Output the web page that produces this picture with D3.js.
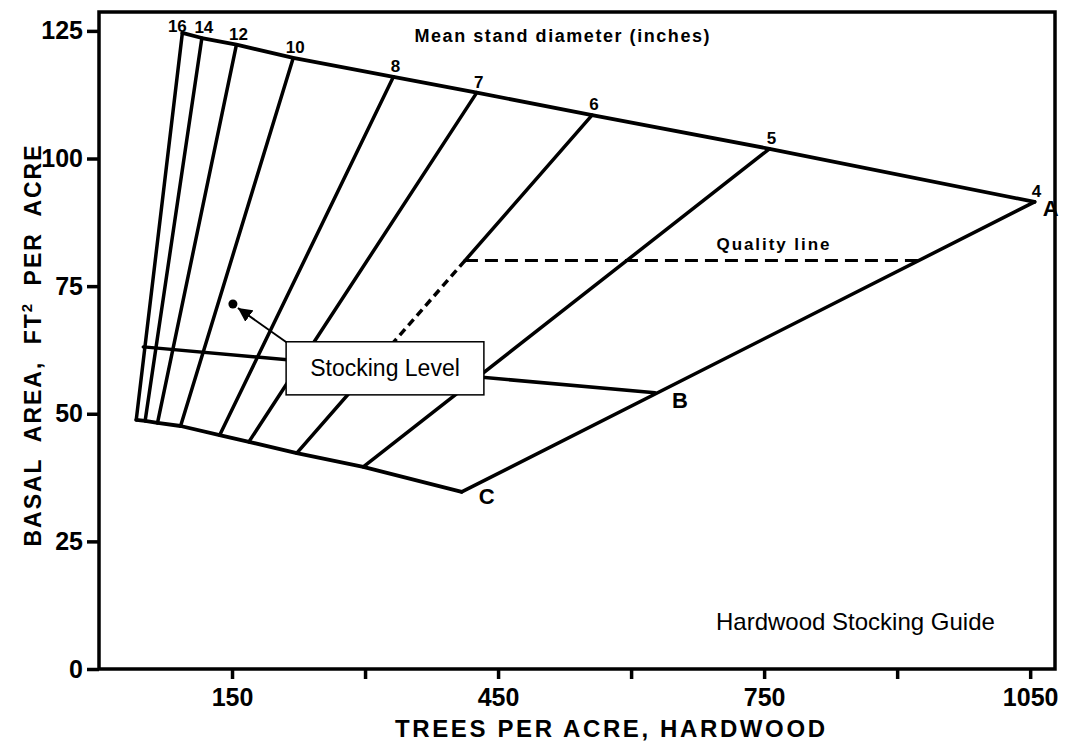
<!DOCTYPE html>
<html>
<head>
<meta charset="utf-8">
<script src="https://cdn.jsdelivr.net/npm/d3@7"></script>
<style>
  body { margin: 0; background: #fff; }
  text { font-family: "Liberation Sans", Arial, sans-serif; fill: #000; }
</style>
</head>
<body>
<div id="plot"></div>
<script>
// mean stand diameter lines (top = A-line, bottom = C-line)
const diameters = [16, 14, 12, 10, 8, 7, 6, 5, 4];
const topTrees = [94, 116, 155, 219, 332, 426, 556, 756, 1055];
const topBasal = [124.6, 123.6, 122.3, 119.7, 116.0, 112.9, 108.5, 101.9, 91.5];
const bottomTrees = [42, 52, 66, 92, 136, 169, 223, 298, 409];
const bottomBasal = [48.8, 48.6, 48.2, 47.6, 45.8, 44.5, 42.3, 39.6, 34.7];

// B-line (minimum stocking)
const bLineTrees = [50, 627];
const bLineBasal = [63.1, 54.1];

// quality line starts on the 6 inch line
const qualityBasal = 80;
const qualityDiameter = 6;
const dashedBasal = [80, 62];

const stockingDot = [151, 71.5];

const xTicks = [150, 300, 450, 600, 750, 900, 1050];
const xLabels = [150, 450, 750, 1050];
const yTicks = [0, 25, 50, 75, 100, 125];

const width = 1083, height = 742;

const svg = d3.select("#plot")
  .append("svg")
    .attr("width", width)
    .attr("height", height);

const x = d3.scaleLinear().domain([0, 1078]).range([99, 1055]);
const y = d3.scaleLinear().domain([0, 128.7]).range([669, 12]);

svg.append("defs").append("marker")
    .attr("id", "arrow")
    .attr("viewBox", "0 0 10 10")
    .attr("refX", 10).attr("refY", 5)
    .attr("markerWidth", 7).attr("markerHeight", 7)
    .attr("markerUnits", "strokeWidth")
    .attr("orient", "auto")
  .append("path")
    .attr("d", "M0,0 L10,5 L0,10 Z")
    .attr("fill", "#000");

// axes
const xAxis = svg.append("g")
  .attr("transform", `translate(0, ${y(0)})`)
  .call(d3.axisBottom(x).tickValues(xTicks).tickSize(10).tickSizeOuter(0).tickPadding(9)
    .tickFormat(d => xLabels.includes(d) ? d : ""));
xAxis.select(".domain").remove();
xAxis.selectAll("line").attr("stroke-width", 3.5);
xAxis.selectAll("text")
  .style("font-size", "25px").style("font-weight", "bold");

const yAxis = svg.append("g")
  .attr("transform", `translate(${x(0)}, 0)`)
  .call(d3.axisLeft(y).tickValues(yTicks).tickSize(12).tickSizeOuter(0).tickPadding(4));
yAxis.select(".domain").remove();
yAxis.selectAll("line").attr("stroke-width", 3.5);
yAxis.selectAll("text")
  .style("font-size", "25px").style("font-weight", "bold");

// frame
svg.append("rect")
  .attr("x", x(0))
  .attr("y", y(128.7))
  .attr("width", x(1078) - x(0))
  .attr("height", y(0) - y(128.7))
  .attr("fill", "none")
  .attr("stroke", "#000")
  .attr("stroke-width", 3.5);

svg.append("text")
  .attr("text-anchor", "middle")
  .attr("x", 610)
  .attr("y", 737)
  .style("font-size", "24px").style("font-weight", "bold")
  .attr("textLength", 430)
  .text("TREES PER ACRE, HARDWOOD");

const yLabel = svg.append("text")
  .attr("text-anchor", "middle")
  .attr("transform", "translate(41, 345) rotate(-90)")
  .style("font-size", "23px").style("font-weight", "bold")
  .style("letter-spacing", "2px").style("word-spacing", "8px");
yLabel.append("tspan").text("BASAL AREA, FT");
yLabel.append("tspan").attr("dy", -9).style("font-size", "15px").text("2");
yLabel.append("tspan").attr("dy", 9).text(" PER ACRE");

function atBasal(i, b) {
  const t = (topBasal[i] - b) / (topBasal[i] - bottomBasal[i]);
  return topTrees[i] + t * (bottomTrees[i] - topTrees[i]);
}

const line = d3.line().x(d => x(d[0])).y(d => y(d[1]));
const chart = svg.append("g")
  .attr("fill", "none")
  .attr("stroke", "#000")
  .attr("stroke-linecap", "round")
  .attr("stroke-linejoin", "round");

// top and bottom boundaries
chart.append("path")
  .attr("d", line(diameters.map((d, i) => [topTrees[i], topBasal[i]])))
  .attr("stroke-width", 3.8);
chart.append("path")
  .attr("d", line(diameters.map((d, i) => [bottomTrees[i], bottomBasal[i]])))
  .attr("stroke-width", 3.8);

// diameter lines
const qi = diameters.indexOf(qualityDiameter);
diameters.forEach(function(d, i) {
  if (i === qi) {
    chart.append("path")
      .attr("d", line([[topTrees[i], topBasal[i]], [atBasal(i, dashedBasal[0]), dashedBasal[0]]]))
      .attr("stroke-width", 3.5);
    chart.append("path")
      .attr("d", line([[atBasal(i, dashedBasal[0]), dashedBasal[0]], [atBasal(i, dashedBasal[1]), dashedBasal[1]]]))
      .attr("stroke-width", 3.5)
      .attr("stroke-linecap", "butt")
      .attr("stroke-dasharray", "8 5");
    chart.append("path")
      .attr("d", line([[atBasal(i, dashedBasal[1]), dashedBasal[1]], [bottomTrees[i], bottomBasal[i]]]))
      .attr("stroke-width", 3.5);
  } else {
    chart.append("path")
      .attr("d", line([[topTrees[i], topBasal[i]], [bottomTrees[i], bottomBasal[i]]]))
      .attr("stroke-width", 3.5);
  }
});

// B-line
chart.append("path")
  .attr("d", line(bLineTrees.map((t, i) => [t, bLineBasal[i]])))
  .attr("stroke-width", 3.5);

// quality line
const last = diameters.length - 1;
chart.append("path")
  .attr("d", line([[atBasal(qi, qualityBasal), qualityBasal], [atBasal(last, qualityBasal), qualityBasal]]))
  .attr("stroke-width", 3)
  .attr("stroke-linecap", "butt")
  .attr("stroke-dasharray", "13 7");

// diameter labels
svg.append("g")
  .selectAll("text")
  .data(diameters)
  .join("text")
    .attr("x", (d, i) => x(topTrees[i]) + (i === 0 ? -5 : 2))
    .attr("y", (d, i) => y(topBasal[i]) + (i === 0 ? -1 : -5))
    .attr("text-anchor", "middle")
    .style("font-size", "17px").style("font-weight", "bold")
    .text(d => d);

svg.append("text")
  .attr("text-anchor", "middle")
  .attr("x", 562)
  .attr("y", 42)
  .style("font-size", "18px").style("font-weight", "bold")
  .attr("textLength", 295)
  .text("Mean stand diameter (inches)");

svg.append("text")
  .attr("text-anchor", "middle")
  .attr("x", x(760))
  .attr("y", y(qualityBasal) - 11)
  .style("font-size", "17px").style("font-weight", "bold")
  .attr("textLength", 113)
  .text("Quality line");

// A, B, C
const corners = [
  {label: "A", trees: topTrees[last], basal: topBasal[last], dx: 16, dy: 14},
  {label: "B", trees: bLineTrees[1], basal: bLineBasal[1], dx: 25, dy: 15},
  {label: "C", trees: bottomTrees[last], basal: bottomBasal[last], dx: 25, dy: 12}
];
svg.append("g")
  .selectAll("text")
  .data(corners)
  .join("text")
    .attr("x", d => x(d.trees) + d.dx)
    .attr("y", d => y(d.basal) + d.dy)
    .attr("text-anchor", "middle")
    .style("font-size", "22px").style("font-weight", "bold")
    .text(d => d.label);

// stocking level callout
const box = {x0: 211, x1: 434, y0: 53.7, y1: 64.1};
svg.append("circle")
  .attr("cx", x(stockingDot[0]))
  .attr("cy", y(stockingDot[1]))
  .attr("r", 4.5)
  .attr("fill", "#000");
svg.append("line")
  .attr("x1", x(box.x0) + 1)
  .attr("y1", y(box.y1) + 1)
  .attr("x2", x(stockingDot[0]) + 5)
  .attr("y2", y(stockingDot[1]) + 4)
  .attr("stroke", "#000")
  .attr("stroke-width", 2)
  .attr("marker-end", "url(#arrow)");
svg.append("rect")
  .attr("x", x(box.x0))
  .attr("y", y(box.y1))
  .attr("width", x(box.x1) - x(box.x0))
  .attr("height", y(box.y0) - y(box.y1))
  .attr("fill", "#fff")
  .attr("stroke", "#000")
  .attr("stroke-width", 1.5);
svg.append("text")
  .attr("text-anchor", "middle")
  .attr("x", (x(box.x0) + x(box.x1)) / 2)
  .attr("y", y(box.y0) - 19)
  .style("font-size", "23px")
  .text("Stocking Level");

svg.append("text")
  .attr("x", 716)
  .attr("y", 630)
  .style("font-size", "24px")
  .text("Hardwood Stocking Guide");
</script>
</body>
</html>
